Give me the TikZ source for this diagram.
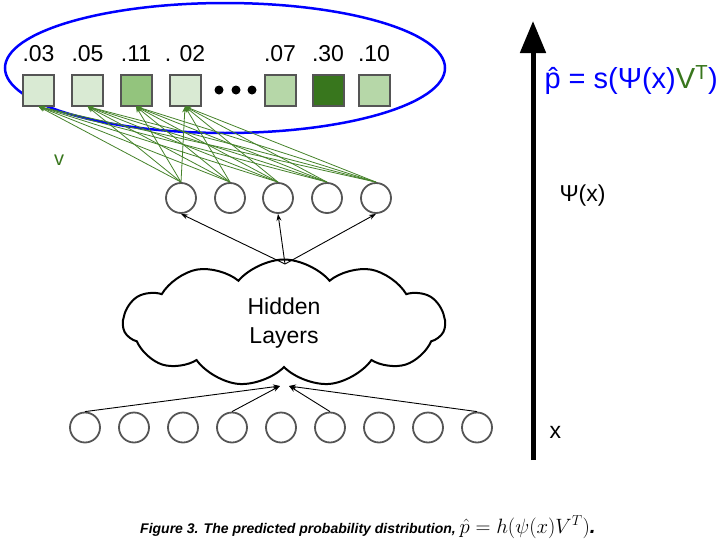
\documentclass[tikz,border=0pt]{standalone}
\usepackage{fontspec}
\setmainfont{Liberation Sans}
\usetikzlibrary{positioning,shapes.geometric,shapes.symbols,arrows.meta}

\definecolor{vgreen}{HTML}{38761D}
\definecolor{edgegreen}{HTML}{45822A}
\definecolor{cellgray}{HTML}{555555}
\definecolor{pa}{HTML}{D9EAD3}
\definecolor{pb}{HTML}{B6D7A8}
\definecolor{pc}{HTML}{93C47D}

\tikzset{
  outcell/.style={draw=cellgray, line width=2pt, minimum size=31pt, inner sep=0pt},
  unit/.style={circle, draw=cellgray, line width=1.8pt, minimum size=30pt, inner sep=0pt},
  vedge/.style={draw=edgegreen, line width=0.8pt, -{Stealth[length=6pt,width=5pt]}},
  fwd/.style={draw=black, line width=0.9pt, -{Stealth[length=7pt,width=5pt]}},
  big/.style={font=\fontsize{23}{29}\selectfont}
}

\begin{document}
\begin{tikzpicture}[x=1pt,y=-1pt]
\useasboundingbox (0,0) rectangle (726,541);

% output distribution
\node[ellipse, draw=blue, line width=2.5pt, minimum width=440pt, minimum height=130pt] (probs) at (225,68) {};
\foreach \n/\x/\c/\p in {1/38.5/pa/.03, 2/87.5/pa/.05, 3/136/pc/.11, 4/185/pa/. 02,
                         5/280/pb/.07, 6/328/vgreen/.30, 7/374/pb/.10} {
  \node[outcell, fill=\c] (o\n) at (\x,90) {};
  \node[big, above=12pt of o\n.north, anchor=base] (p\n) {\p};
}
\foreach \x in {219,236,252}
  \fill (\x,90) circle (4.5pt);

% embedding units
\foreach \n/\x in {1/181, 2/230, 3/278, 4/327, 5/376}
  \node[unit] (h\n) at (\x,198) {};
\foreach \h in {1,...,5}
  \foreach \o in {1,...,4}
    \draw[vedge] (h\h.north) -- (o\o.south);
\node[text=vgreen, font=\fontsize{20}{24}\selectfont] (vlab) at (59,160) {v};

% hidden layers
\node[cloud, cloud puffs=11, cloud puff arc=100, aspect=2.5, draw, line width=2pt,
      minimum width=322pt, minimum height=127pt, align=center, big] (hidden) at (284,323) {Hidden\\Layers};
\coordinate (htop) at (285,264);
\coordinate (hbotl) at (280,386);
\coordinate (hbotr) at (289,386);
\foreach \n in {1,3,5}
  \draw[fwd] (htop) -- (h\n.south);

% input units
\foreach \n in {1,...,9}
  \node[unit] (x\n) at (36+49*\n,427.5) {};
\foreach \n in {1,4}
  \draw[fwd] (x\n.north) -- (hbotl);
\foreach \n in {6,9}
  \draw[fwd] (x\n.north) -- (hbotr);

% axis
\coordinate (axbot) at (533,460);
\coordinate (axtop) at (533,21);
\draw[line width=5pt, -{Triangle[width=25pt,length=32pt]}] (axbot) -- (axtop);
\node[big, anchor=west] (xlab) at (546,432) {x};
\node[big, anchor=west] (psilab) at (556,196) {Ψ(x)};
\node[text=blue, anchor=west, font=\fontsize{29}{34}\selectfont] (phat) at (541,80)
  {\^{p} = s(Ψ(x){\color{vgreen}V\textsuperscript{T}})};

% caption
\node[font=\fontsize{14}{18}\selectfont\bfseries\itshape, text=black, anchor=west, inner sep=0pt] (caption) at (140,527)
  {Figure 3. The predicted probability distribution, {\fontsize{20.74}{22}\selectfont$\hat{p} = h(\psi(x)V^T)$.}};
\end{tikzpicture}
\end{document}
